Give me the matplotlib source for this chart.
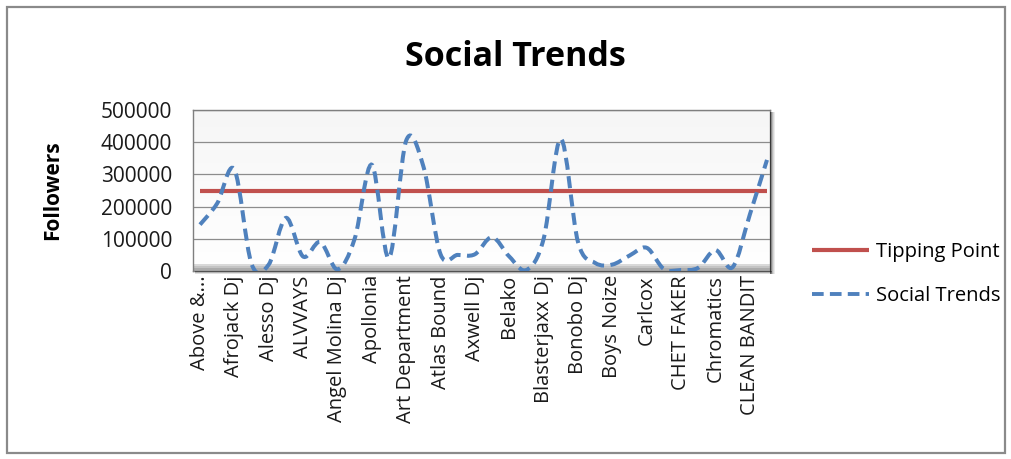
import matplotlib
matplotlib.use('Agg')
import matplotlib.pyplot as plt
import numpy as np
from matplotlib.path import Path
from matplotlib.patches import PathPatch, Rectangle
from matplotlib.lines import Line2D

plt.rcParams['font.family'] = ['Open Sans', 'DejaVu Sans']

# ---------------- data ----------------
categories = [
    "Above &...", "Adventure Club", "Afrojack Dj", "Alan Walker", "Alesso Dj",
    "Alison Wonderland", "ALVVAYS", "Amine Edge", "Angel Molina Dj", "Aphex Twin",
    "Apollonia", "Armin van Buuren", "Art Department", "ATB", "Atlas Bound",
    "Avicii", "Axwell Dj", "Bassnectar", "Belako", "Benny Benassi",
    "Blasterjaxx Dj", "Bob Moses", "Bonobo Dj", "Borgore", "Boys Noize",
    "Calvin Harris", "Carlcox", "Chainsmokers", "CHET FAKER", "Chris Lake",
    "Chromatics", "Claptone", "CLEAN BANDIT", "Cut Copy",
]
social_trends = [
    144000, 210000, 315000, 22000, 20000, 165000, 45000, 90000, 5000, 100000,
    330000, 40000, 405000, 325000, 52000, 50000, 52000, 105000, 45000, 3000,
    100000, 410000, 90000, 25000, 20000, 48000, 72000, 6000, 3000, 10000,
    65000, 12000, 175000, 345000,
]
tipping_point = [250000] * len(categories)
y_ticks = [0, 100000, 200000, 300000, 400000, 500000]
label_step = 2

W, H = 1011, 459
fig = plt.figure(figsize=(W / 100, H / 100), dpi=100)
fig.patch.set_facecolor('white')

# outer chart border
fig.patches.append(Rectangle((7 / W, 6 / H), (1005 - 7) / W, (452 - 6) / H,
                             transform=fig.transFigure, fill=False,
                             edgecolor='#8a8a8a', lw=1.6, zorder=0))

L, R, T, B = 193, 770, 110, 271
ax = fig.add_axes([L / W, 1 - B / H, (R - L) / W, (B - T) / H])

# shadow of plot area (right and bottom)
for i, a in enumerate([0.55, 0.4, 0.28, 0.16, 0.08]):
    fig.patches.append(Rectangle(((R + i) / W, 1 - (B + 3) / H), 1.2 / W, (B + 3 - T - 2) / H,
                                 transform=fig.transFigure, color='black', alpha=a, lw=0, zorder=0))
for i, a in enumerate([0.35, 0.22, 0.12]):
    fig.patches.append(Rectangle(((L + 2) / W, 1 - (B + 1 + i) / H), (R - L) / W, 1.2 / H,
                                 transform=fig.transFigure, color='black', alpha=a, lw=0, zorder=0))

n = len(categories)
x = np.arange(n)
sp = 17.18
xlim = (-(200 - L) / sp, (n - 1) + (R - 767) / sp)

# background gradient of plot area
grad = np.linspace(0.965, 1.0, 100).reshape(-1, 1)
ax.imshow(np.dstack([grad, grad, grad]), extent=(*xlim, 0, 500000),
          aspect='auto', origin='upper', zorder=0)
ax.set_xlim(*xlim)
ax.set_ylim(0, 500000)

# floor band
for h, c in [(7, '#d9d9d9'), (5, '#c4c4c4'), (3, '#acacac')]:
    ax.add_patch(Rectangle((0, 0), 1, h / (B - T), transform=ax.transAxes,
                           color=c, lw=0, zorder=1))

ax.yaxis.grid(True, color='#8c8c8c', lw=0.9, zorder=1.5)
ax.set_axisbelow(True)

# tipping point line
ax.plot(x, tipping_point, color='#C0504D', lw=3.0, solid_capstyle='butt', zorder=3)

# smoothed social trends line (Bezier through the data points)
pts = np.column_stack([x, social_trends]).astype(float)
verts = [tuple(pts[0])]
codes = [Path.MOVETO]
for i in range(n - 1):
    p0 = pts[i - 1] if i > 0 else pts[i]
    p1 = pts[i]
    p2 = pts[i + 1]
    p3 = pts[i + 2] if i + 2 < n else pts[i + 1]
    c1 = p1 + (p2 - p0) / 6.0
    c2 = p2 - (p3 - p1) / 6.0
    verts += [tuple(c1), tuple(c2), tuple(p2)]
    codes += [Path.CURVE4] * 3
ax.add_patch(PathPatch(Path(verts, codes), fill=False, edgecolor='#4F81BD',
                       lw=2.9, linestyle=(0, (3.0, 1.6)), capstyle='butt', zorder=4))

# axes styling
for s in ax.spines.values():
    s.set_color('#7f7f7f')
    s.set_linewidth(1.0)
ax.set_yticks(y_ticks)
ax.set_yticklabels([str(v) for v in y_ticks])
ax.tick_params(axis='y', length=0, pad=15, labelsize=15, labelcolor='#1a1a1a')
ax.set_xticks(x[::label_step])
ax.set_xticklabels(categories[::label_step], rotation=90, ha='center', va='top')
ax.tick_params(axis='x', length=0, pad=3, labelsize=14.5, labelcolor='#1a1a1a')

# title and axis title
fig.text(515 / W, 1 - 57 / H, 'Social Trends', ha='center', va='center',
         fontsize=24.5, fontweight='bold', color='black')
fig.text(53 / W, 1 - 190 / H, 'Followers', rotation=90, ha='center', va='center',
         fontsize=15, fontweight='bold', color='black')

# legend
handles = [Line2D([], [], color='#C0504D', lw=3.0, solid_capstyle='butt'),
           Line2D([], [], color='#4F81BD', lw=2.8, linestyle=(0, (3.0, 1.6)))]
fig.legend(handles, ['Tipping Point', 'Social Trends'], loc='center left',
           bbox_to_anchor=(812 / W, 1 - 274 / H), frameon=False, borderpad=0,
           borderaxespad=0, handlelength=2.85, handletextpad=0.35,
           labelspacing=1.2, fontsize=14.5)

fig.savefig('out.png', dpi=100)
